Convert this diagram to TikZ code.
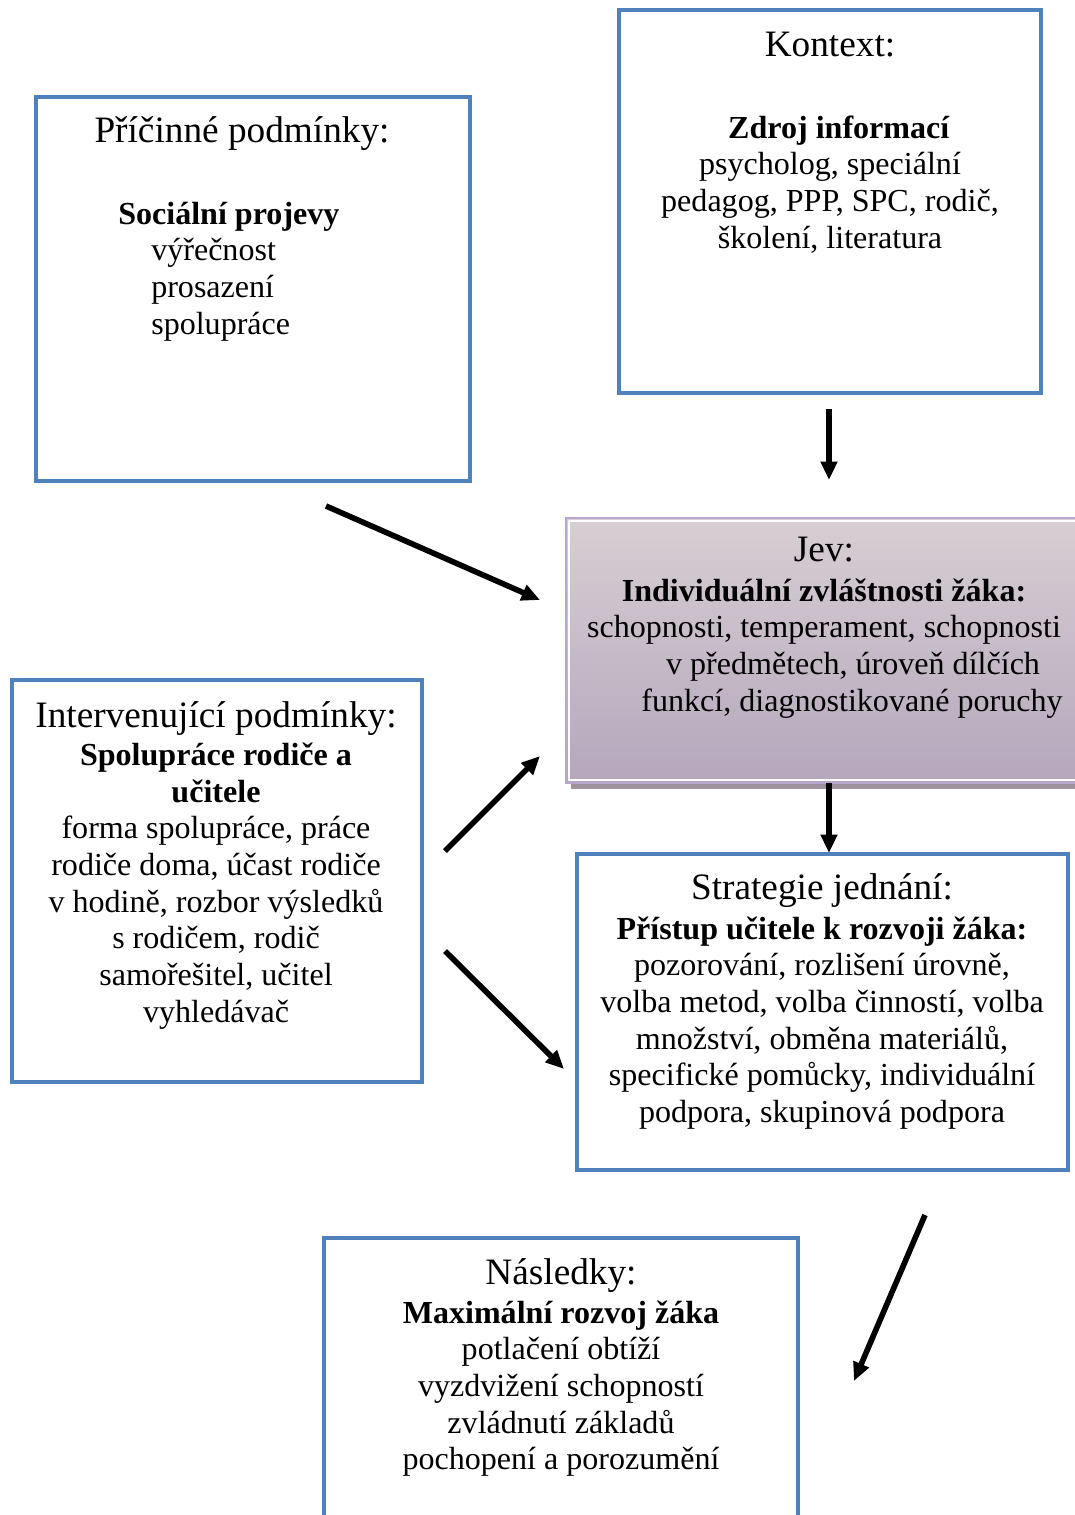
\documentclass[tikz,border=0pt]{standalone}
\usepackage{fontspec}
\setmainfont{Liberation Serif}
\usetikzlibrary{arrows.meta,fit}

\definecolor{boxblue}{RGB}{79,129,189}
\definecolor{jevtop}{RGB}{215,207,211}
\definecolor{jevbottom}{RGB}{181,166,188}
\definecolor{jevline}{RGB}{184,166,208}
\definecolor{jevshadow}{RGB}{160,145,158}

\tikzset{
	box/.style = {draw=boxblue, line width=3.5pt, inner sep=0pt},
	txt/.style = {font=\fontsize{22.8}{26.3}\selectfont, anchor=base, inner sep=0pt},
	title/.style = {txt, font=\fontsize{26.5}{30}\selectfont},
	arr/.style = {line width=4pt, -{Triangle[length=4.6mm,width=4mm]}},
}

\begin{document}
\begin{tikzpicture}[x=0.025cm, y=-0.025cm]
	\useasboundingbox (0,0) rectangle (1075,1515);
	\clip (0,0) rectangle (1075,1515);

	% boxes
	\node[box, fit={(36,97) (470,481)}] (cause) {};
	\node[box, fit={(619,10) (1041,393)}] (context) {};
	\fill[jevshadow] (571,523) rectangle (1090,789);
	\node[draw=jevline, line width=1.5pt, top color=jevtop, bottom color=jevbottom, inner sep=0pt,
		fit={(566,518) (1090,783)}] (jev) {};
	\draw[white, line width=1pt] (569,521) rectangle (1090,780);
	\node[box, fit={(12,680) (422,1082)}] (interv) {};
	\node[box, fit={(577,854) (1068,1170)}] (strat) {};
	\node[box, fit={(324,1238) (798,1530)}] (cons) {};

	% Příčinné podmínky
	\node[title] (causeT) at (242,142) {Příčinné podmínky:};
	\node[txt, anchor=base west] (causeB) at (118,224) {\textbf{Sociální projevy}};
	\foreach \t [count=\i] in {výřečnost, prosazení, spolupráce}
		\node[txt, anchor=base west] (cause\i) at (151,224+36.7*\i) {\t};

	% Kontext
	\node[title] (contextT) at (830,56) {Kontext:};
	\node[txt] (contextB) at (839,138) {\textbf{Zdroj informací}};
	\foreach \t [count=\i] in {{psycholog, speciální}, {pedagog, PPP, SPC, rodič,}, {školení, literatura}}
		\node[txt] (context\i) at (830,138+36.7*\i) {\t};

	% Jev
	\node[title] (jevT) at (824,561) {Jev:};
	\node[txt] (jevB) at (824,601) {\textbf{Individuální zvláštnosti žáka:}};
	\foreach \x/\t [count=\i] in {824/{schopnosti, temperament, schopnosti}, 853/{v předmětech, úroveň dílčích}, 852/{funkcí, diagnostikované poruchy}}
		\node[txt] (jev\i) at (\x,601+36.7*\i) {\t};

	% Intervenující podmínky
	\node[title] (intervT) at (216,727) {Intervenující podmínky:};
	\node[txt] (intervB1) at (216,765) {\textbf{Spolupráce rodiče a}};
	\node[txt] (intervB2) at (216,802) {\textbf{učitele}};
	\foreach \t [count=\i] in {{forma spolupráce, práce}, {rodiče doma, účast rodiče}, {v hodině, rozbor výsledků}, {s rodičem, rodič}, {samořešitel, učitel}, vyhledávač}
		\node[txt] (interv\i) at (216,802+36.7*\i) {\t};

	% Strategie jednání
	\node[title] (stratT) at (822,899) {Strategie jednání:};
	\node[txt] (stratB) at (822,939) {\textbf{Přístup učitele k rozvoji žáka:}};
	\foreach \t [count=\i] in {{pozorování, rozlišení úrovně,}, {volba metod, volba činností, volba}, {množství, obměna materiálů,}, {specifické pomůcky, individuální}, {podpora, skupinová podpora}}
		\node[txt] (strat\i) at (822,939+36.7*\i) {\t};

	% Následky
	\node[title] (consT) at (561,1284) {Následky:};
	\node[txt] (consB) at (561,1323) {\textbf{Maximální rozvoj žáka}};
	\foreach \t [count=\i] in {{potlačení obtíží}, {vyzdvižení schopností}, {zvládnutí základů}, {pochopení a porozumění}}
		\node[txt] (cons\i) at (561,1323+36.7*\i) {\t};

	% arrows
	\coordinate (a1s) at (326,506); \coordinate (a1e) at (540,600);
	\coordinate (a2s) at (829,409); \coordinate (a2e) at (829,480);
	\coordinate (a3s) at (829,783); \coordinate (a3e) at (829,853);
	\coordinate (a4s) at (445,851); \coordinate (a4e) at (540,756);
	\coordinate (a5s) at (445,951); \coordinate (a5e) at (564,1069);
	\coordinate (a6s) at (925,1215); \coordinate (a6e) at (854,1381);
	\foreach \i in {1,...,6}
		\draw[arr] (a\i s) -- (a\i e);
\end{tikzpicture}
\end{document}
